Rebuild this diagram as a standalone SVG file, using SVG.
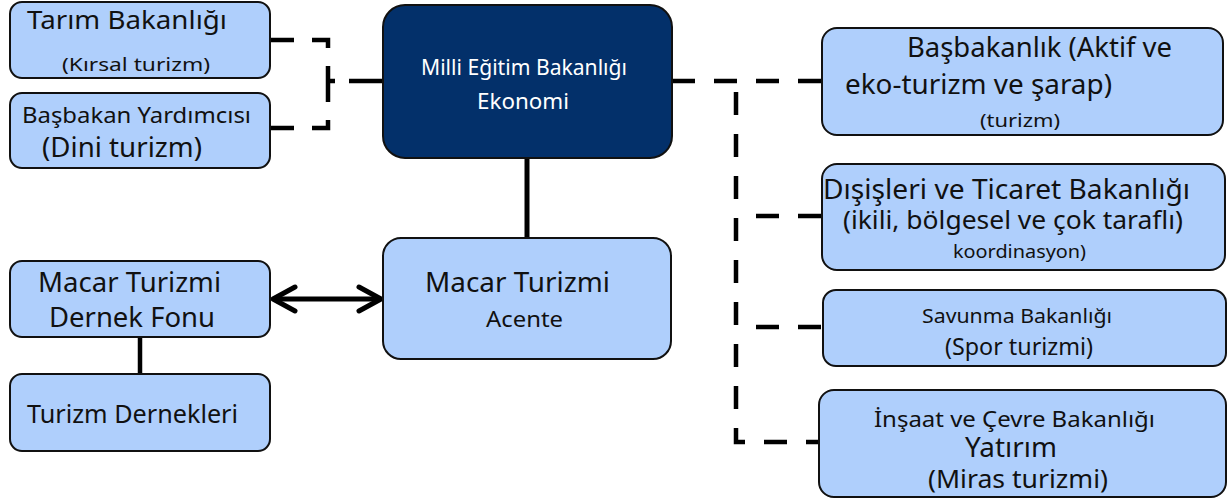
<svg xmlns="http://www.w3.org/2000/svg" width="1228" height="502" viewBox="0 0 1228 502">
<style>
.box{fill:#AFCFFC;stroke:#111;stroke-width:2}
.dark{fill:#03306A;stroke:#111;stroke-width:2}
text{font-family:"Noto Sans","Open Sans","Liberation Sans",sans-serif;fill:#111}
.w{fill:#fff}
.dash{fill:none;stroke:#000;stroke-width:4.5;stroke-dasharray:23 19}
.solid{fill:none;stroke:#000;stroke-width:5}
.head{fill:none;stroke:#000;stroke-width:5;stroke-linecap:round;stroke-linejoin:round}
</style>
<rect width="1228" height="502" fill="#fff"/>
<g id="connectors">
<path class="dash" style="stroke-dasharray:24 18" d="M270,40 H328 V84"/>
<path class="dash" style="stroke-dasharray:24 18" d="M270,128 H328 V84"/>
<path class="dash" style="stroke-dasharray:34 14" d="M383,81 H328"/>
<path class="dash" d="M672,81 H822"/>
<path class="dash" d="M736,92 V442 H818"/>
<path class="dash" d="M756,216 H822"/>
<path class="dash" d="M756,327 H823"/>
<path class="solid" d="M527,157 V238"/>
<path class="solid" style="stroke-width:4.5" d="M140,337 V374"/>
<path class="solid" d="M274,299 H380"/>
<path class="head" d="M295,287 L273,299 L295,311"/>
<path class="head" d="M359,287 L381,299 L359,311"/>
</g>
<g id="tarim">
<rect class="box" x="10" y="2" width="260" height="76" rx="12"/>
<text x="27" y="29" font-size="25" textLength="200" lengthAdjust="spacingAndGlyphs">Tarım Bakanlığı</text>
<text x="62" y="71" font-size="18.5" textLength="148" lengthAdjust="spacingAndGlyphs">(Kırsal turizm)</text>
</g>
<g id="basbakan-yardimcisi">
<rect class="box" x="10" y="93" width="260" height="75" rx="12"/>
<text x="22" y="123" font-size="22" textLength="229" lengthAdjust="spacingAndGlyphs">Başbakan Yardımcısı</text>
<text x="42" y="157" font-size="28" textLength="160" lengthAdjust="spacingAndGlyphs">(Dini turizm)</text>
</g>
<g id="milli-egitim">
<rect class="dark" x="383" y="5" width="289" height="153" rx="22"/>
<text class="w" x="421" y="75" font-size="21" textLength="206" lengthAdjust="spacingAndGlyphs">Milli Eğitim Bakanlığı</text>
<text class="w" x="477" y="109" font-size="21" textLength="92" lengthAdjust="spacingAndGlyphs">Ekonomi</text>
</g>
<g id="basbakanlik">
<rect class="box" x="822" y="28" width="401" height="107" rx="15"/>
<text x="907" y="57" font-size="28" textLength="265" lengthAdjust="spacingAndGlyphs">Başbakanlık (Aktif ve</text>
<text x="845" y="94" font-size="28" textLength="267" lengthAdjust="spacingAndGlyphs">eko-turizm ve şarap)</text>
<text x="980" y="127" font-size="18" textLength="80" lengthAdjust="spacingAndGlyphs">(turizm)</text>
</g>
<g id="disisleri">
<rect class="box" x="822" y="164" width="403" height="106" rx="15"/>
<text x="823" y="199" font-size="27" textLength="367" lengthAdjust="spacingAndGlyphs">Dışişleri ve Ticaret Bakanlığı</text>
<text x="843" y="229" font-size="25" textLength="340" lengthAdjust="spacingAndGlyphs">(ikili, bölgesel ve çok taraflı)</text>
<text x="953" y="258" font-size="18" textLength="133" lengthAdjust="spacingAndGlyphs">koordinasyon)</text>
</g>
<g id="savunma">
<rect class="box" x="823" y="290" width="403" height="76" rx="13"/>
<text x="922" y="323" font-size="20" textLength="190" lengthAdjust="spacingAndGlyphs">Savunma Bakanlığı</text>
<text x="945" y="355" font-size="24" textLength="148" lengthAdjust="spacingAndGlyphs">(Spor turizmi)</text>
</g>
<g id="insaat">
<rect class="box" x="819" y="390" width="407" height="107" rx="15"/>
<text x="874" y="427" font-size="22.5" textLength="281" lengthAdjust="spacingAndGlyphs">İnşaat ve Çevre Bakanlığı</text>
<text x="965" y="457" font-size="26.5" textLength="92" lengthAdjust="spacingAndGlyphs">Yatırım</text>
<text x="928" y="488" font-size="26" textLength="180" lengthAdjust="spacingAndGlyphs">(Miras turizmi)</text>
</g>
<g id="dernek-fonu">
<rect class="box" x="10" y="261" width="260" height="76" rx="12"/>
<text x="38" y="292" font-size="27.5" textLength="183" lengthAdjust="spacingAndGlyphs">Macar Turizmi</text>
<text x="49" y="327" font-size="27.5" textLength="166" lengthAdjust="spacingAndGlyphs">Dernek Fonu</text>
</g>
<g id="turizm-dernekleri">
<rect class="box" x="10" y="374" width="260" height="77" rx="12"/>
<text x="27" y="423" font-size="25" textLength="211" lengthAdjust="spacingAndGlyphs">Turizm Dernekleri</text>
</g>
<g id="acente">
<rect class="box" x="383" y="238" width="288" height="121" rx="18"/>
<text x="425" y="292" font-size="27.5" textLength="185" lengthAdjust="spacingAndGlyphs">Macar Turizmi</text>
<text x="486" y="327" font-size="22" textLength="77" lengthAdjust="spacingAndGlyphs">Acente</text>
</g>
</svg>
